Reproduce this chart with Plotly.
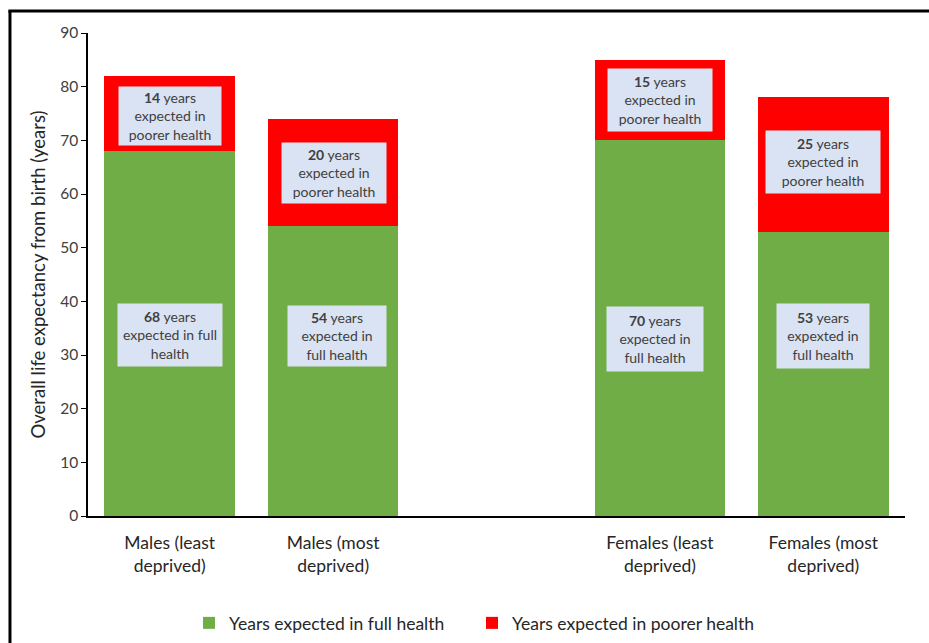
import plotly.graph_objects as go

# Chart data
categories = ["Males (least<br>deprived)", "Males (most<br>deprived)", " ",
              "Females (least<br>deprived)", "Females (most<br>deprived)"]
full_health = [68, 54, None, 70, 53]
poorer_health = [14, 20, None, 15, 25]
full_label_tail = ["expected in full<br>health", "expected in<br>full health", None,
                   "expected in<br>full health", "expexted in<br>full health"]
poorer_label_tail = ["expected in<br>poorer health"] * 5
y_ticks = [0, 10, 20, 30, 40, 50, 60, 70, 80, 90]

GREEN = "#70AD47"
RED = "#FF0000"
BOX = "#DAE3F3"
TXT = "#404040"
FONT = "Lato, Carlito, Calibri, sans-serif"

fig = go.Figure()
fig.add_trace(go.Bar(x=categories, y=full_health, name="Years expected in full health",
                     marker=dict(color=GREEN, line=dict(width=0))))
fig.add_trace(go.Bar(x=categories, y=poorer_health, name="Years expected in poorer health",
                     marker=dict(color=RED, line=dict(width=0))))

# label boxes: centre height, box size and horizontal nudge
full_box_y = [33.8, 33.5, None, 33.0, 33.5]
full_box_w = [100, 94, None, 92, 88]
full_box_h = [58, 56, None, 60, 60]
full_box_dx = [0, 4, None, -5, 0]
poor_box_y = [74.6, 63.9, None, 77.6, 65.9]
poor_box_w = [98, 100, None, 100, 110]
poor_box_h = [54, 56, None, 58, 58]
poor_box_dx = [0, 1, None, 0, 0]

annotations = []
for i, cat in enumerate(categories):
    if full_health[i] is None:
        continue
    annotations.append(dict(
        x=cat, y=full_box_y[i], xref="x", yref="y", showarrow=False,
        text=f"<b>{full_health[i]}</b> years<br>{full_label_tail[i]}",
        font=dict(family=FONT, size=14, color=TXT), align="center",
        bgcolor=BOX, width=full_box_w[i], height=full_box_h[i], borderpad=2,
        xshift=full_box_dx[i]))
    annotations.append(dict(
        x=cat, y=poor_box_y[i], xref="x", yref="y", showarrow=False,
        text=f"<b>{poorer_health[i]}</b> years<br>{poorer_label_tail[i]}",
        font=dict(family=FONT, size=14, color=TXT), align="center",
        bgcolor=BOX, width=poor_box_w[i], height=poor_box_h[i], borderpad=2,
        xshift=poor_box_dx[i]))

# outer frame (left and top edges)
shapes = [
    dict(type="line", xref="paper", yref="paper", x0=-0.0955, x1=-0.0955, y0=1.0455, y1=-0.30,
         line=dict(color="black", width=3)),
    dict(type="line", xref="paper", yref="paper", x0=-0.0975, x1=1.05, y0=1.0455, y1=1.0455,
         line=dict(color="black", width=3)),
]

fig.update_layout(
    barmode="stack", bargap=0.2,
    width=929, height=643,
    margin=dict(l=88, r=24, t=33, b=127, autoexpand=False),
    paper_bgcolor="white", plot_bgcolor="white",
    font=dict(family=FONT, size=17.5, color="#262626"),
    showlegend=True,
    legend=dict(orientation="h", x=0.47, xanchor="center", y=-0.2215, yanchor="middle",
                font=dict(family=FONT, size=17.5, color="#262626"),
                entrywidth=238, itemwidth=30,
                traceorder="normal"),
    annotations=annotations,
    shapes=shapes,
    xaxis=dict(type="category", categoryorder="array", categoryarray=categories,
               showline=True, linecolor="black", linewidth=1.5, ticks="",
               ticklabelstandoff=10,
               showgrid=False, tickfont=dict(family=FONT, size=17.5, color="#262626")),
    yaxis=dict(range=[0, 90], tickvals=y_ticks, showline=True, linecolor="black",
               linewidth=1.5, ticks="outside", ticklen=5, tickcolor="black",
               showgrid=False, zeroline=False,
               tickfont=dict(family=FONT, size=15.5, color=TXT),
               title=dict(text="Overall life expectancy from birth (years)",
                          font=dict(family=FONT, size=18.5, color="#262626"), standoff=10)),
)

fig.write_html("out.html")
